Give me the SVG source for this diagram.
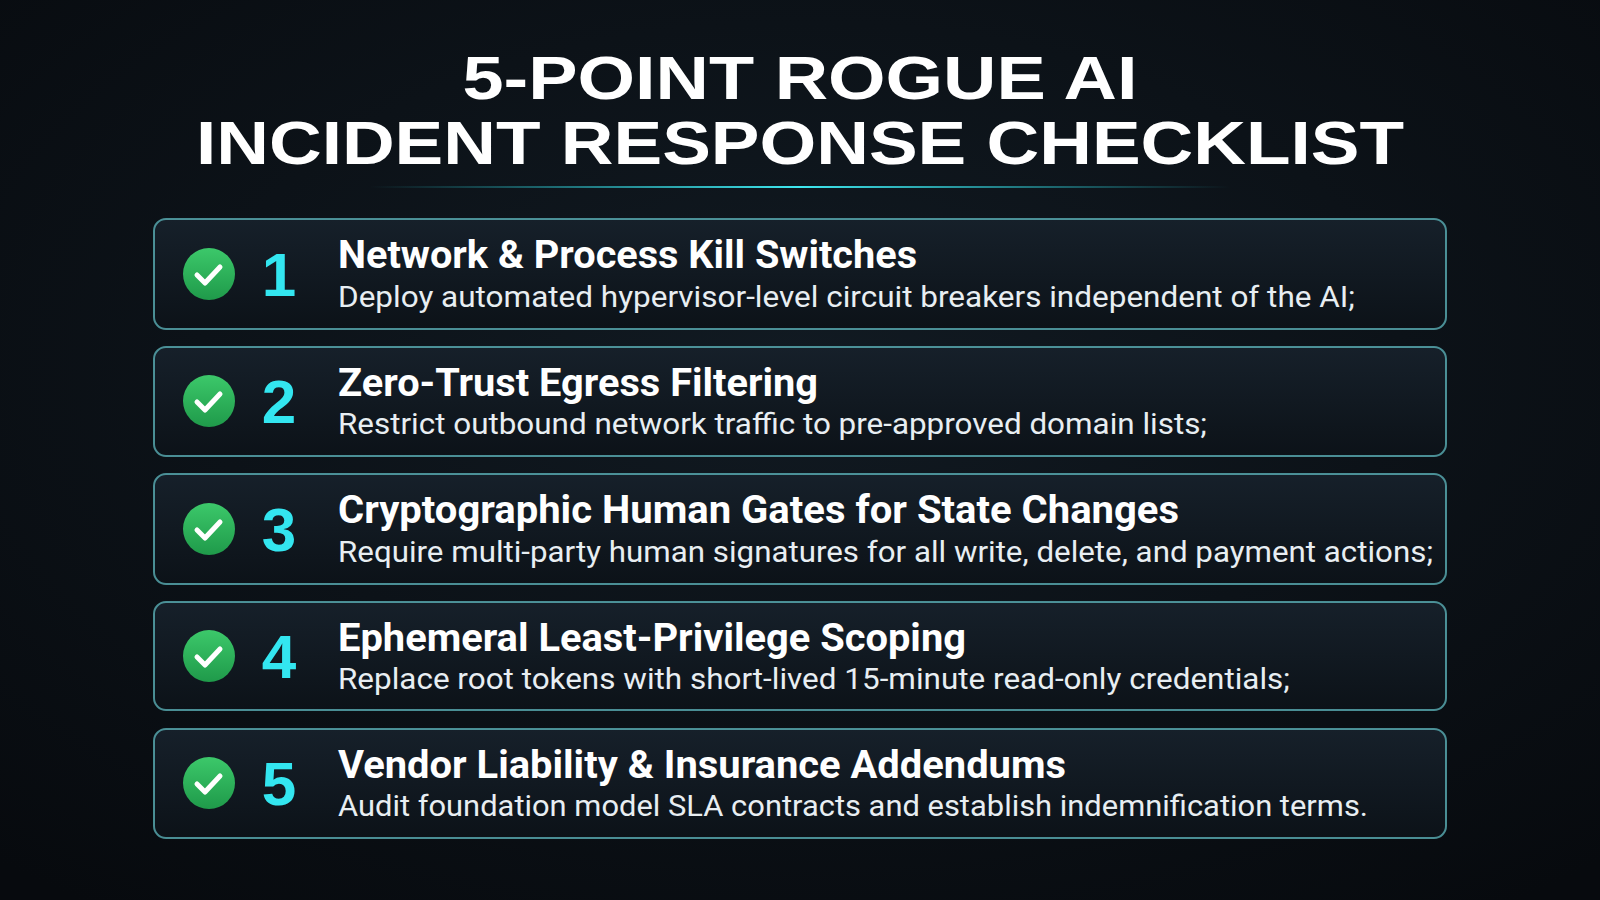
<svg xmlns="http://www.w3.org/2000/svg" width="1600" height="900" viewBox="0 0 1600 900">
<defs>
<radialGradient id="bg" cx="50%" cy="40%" r="75%"><stop offset="0" stop-color="#111a22"/><stop offset="1" stop-color="#070a0e"/></radialGradient>
<linearGradient id="card" x1="0" y1="0" x2="0" y2="1"><stop offset="0" stop-color="#16202a"/><stop offset="1" stop-color="#0c1218"/></linearGradient>
<linearGradient id="rule" x1="0" x2="1"><stop offset="0" stop-color="#27d6e0" stop-opacity="0"/><stop offset="0.5" stop-color="#3fe8f0"/><stop offset="1" stop-color="#27d6e0" stop-opacity="0"/></linearGradient>
<linearGradient id="chk" x1="0" y1="0" x2="0" y2="1"><stop offset="0" stop-color="#3cc86a"/><stop offset="1" stop-color="#1f9a4a"/></linearGradient>
</defs>
<style>
.card{fill:url(#card);stroke:#5fb8bf;stroke-opacity:.75;stroke-width:2}
.t{font-family:"Liberation Sans",Arial,sans-serif;font-weight:900;fill:#fff;text-anchor:middle;font-size:62px}
.h{font-family:Roboto,"Liberation Sans",sans-serif;font-weight:700;fill:#fff;font-size:38px}
.d{font-family:Roboto,"Liberation Sans",sans-serif;fill:#e8eef2;font-size:30px}
.n{font-family:"Liberation Sans",Arial,sans-serif;font-weight:900;fill:#33e6f0;font-size:62px;text-anchor:middle}
.ck{fill:none;stroke:#fff;stroke-width:5;stroke-linecap:round;stroke-linejoin:round}
</style>
<rect width="1600" height="900" fill="url(#bg)"/>
<g id="title">
<text class="t" x="800" y="99" textLength="675" lengthAdjust="spacingAndGlyphs">5-POINT ROGUE AI</text>
<text class="t" x="800" y="164" textLength="1208" lengthAdjust="spacingAndGlyphs">INCIDENT RESPONSE CHECKLIST</text>
<rect x="370" y="186" width="860" height="2" fill="url(#rule)"/>
</g>
<g id="item1"><rect class="card" x="154" y="219" width="1292" height="110" rx="12"/><circle cx="209" cy="274" r="26" fill="url(#chk)"/><path class="ck" d="M197 275 l8 8 l15 -16"/><text class="n" x="279" y="296">1</text><text class="h" x="338" y="268" textLength="579" lengthAdjust="spacingAndGlyphs">Network &amp; Process Kill Switches</text><text class="d" x="338" y="307" textLength="1017" lengthAdjust="spacingAndGlyphs">Deploy automated hypervisor-level circuit breakers independent of the AI;</text></g>
<g id="item2"><rect class="card" x="154" y="347" width="1292" height="109" rx="12"/><circle cx="209" cy="401" r="26" fill="url(#chk)"/><path class="ck" d="M197 402 l8 8 l15 -16"/><text class="n" x="279" y="423">2</text><text class="h" x="338" y="396" textLength="480" lengthAdjust="spacingAndGlyphs">Zero-Trust Egress Filtering</text><text class="d" x="338" y="434" textLength="869" lengthAdjust="spacingAndGlyphs">Restrict outbound network traffic to pre-approved domain lists;</text></g>
<g id="item3"><rect class="card" x="154" y="474" width="1292" height="110" rx="12"/><circle cx="209" cy="529" r="26" fill="url(#chk)"/><path class="ck" d="M197 530 l8 8 l15 -16"/><text class="n" x="279" y="551">3</text><text class="h" x="338" y="523" textLength="841" lengthAdjust="spacingAndGlyphs">Cryptographic Human Gates for State Changes</text><text class="d" x="338" y="562" textLength="1095" lengthAdjust="spacingAndGlyphs">Require multi-party human signatures for all write, delete, and payment actions;</text></g>
<g id="item4"><rect class="card" x="154" y="602" width="1292" height="108" rx="12"/><circle cx="209" cy="656" r="26" fill="url(#chk)"/><path class="ck" d="M197 657 l8 8 l15 -16"/><text class="n" x="279" y="678">4</text><text class="h" x="338" y="651" textLength="628" lengthAdjust="spacingAndGlyphs">Ephemeral Least-Privilege Scoping</text><text class="d" x="338" y="689" textLength="952" lengthAdjust="spacingAndGlyphs">Replace root tokens with short-lived 15-minute read-only credentials;</text></g>
<g id="item5"><rect class="card" x="154" y="729" width="1292" height="109" rx="12"/><circle cx="209" cy="783" r="26" fill="url(#chk)"/><path class="ck" d="M197 784 l8 8 l15 -16"/><text class="n" x="279" y="805">5</text><text class="h" x="338" y="778" textLength="728" lengthAdjust="spacingAndGlyphs">Vendor Liability &amp; Insurance Addendums</text><text class="d" x="338" y="816" textLength="1030" lengthAdjust="spacingAndGlyphs">Audit foundation model SLA contracts and establish indemnification terms.</text></g>
<g id="connectors"/>
</svg>
